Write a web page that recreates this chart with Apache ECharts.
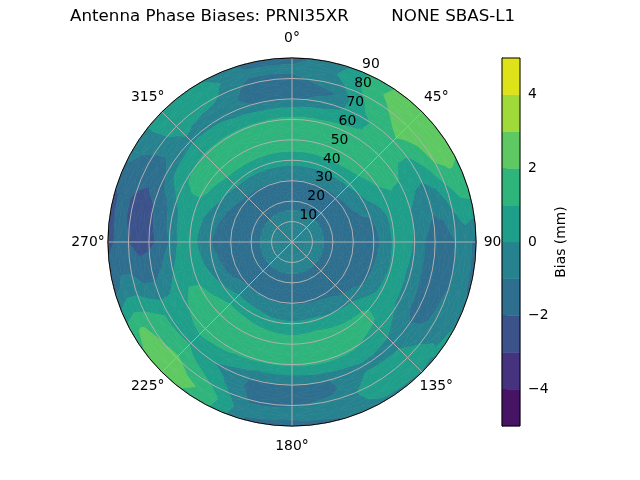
<!DOCTYPE html>
<html>
<head>
<meta charset="utf-8">
<script src="https://cdn.jsdelivr.net/npm/echarts@6.0.0/dist/echarts.min.js"></script>
<style>
html,body{margin:0;padding:0;background:#ffffff;}
#chart{width:640px;height:480px;}
</style>
</head>
<body>
<div id="chart"></div>
<script>
// ---- data ----
const titleText = 'Antenna Phase Biases: PRNI35XR        NONE SBAS-L1';
const azimuths = [0,15,30,45,60,75,90,105,120,135,150,165,180,195,210,225,240,255,270,285,300,315,330,345];
const zeniths  = [0,5,10,15,20,25,30,35,40,45,50,55,60,65,70,75,80,85,90];
// one zenith profile (0..90 step 5) per azimuth, bias in mm
const bias = [
  /*   0 */ [-0.5,-0.55,-0.7,-0.95,-1.4,-1.5,-1.1,-0.3, 0.3, 1.1, 1.6, 1.6, 1.2, 0.2,-1.2,-1.5,-1.2,-0.8,-1.4],
  /*  15 */ [-0.5,-0.55,-0.7,-0.95,-1.4,-1.5,-1.1,-0.3, 0.3, 1.1, 1.6, 1.6, 1.2, 0.4,-0.6,-1.1,-0.6, 0.0,-0.5],
  /*  30 */ [-0.5,-0.55,-0.7,-0.95,-1.4,-1.5,-1.1,-0.4, 0.3, 1.1, 1.6, 1.6, 1.3, 0.9, 0.8, 1.2, 1.6, 1.9, 1.8],
  /*  45 */ [-0.5,-0.55,-0.7,-0.95,-1.4,-1.5,-1.2,-0.5, 0.2, 0.9, 1.4, 1.6, 1.6, 1.6, 1.8, 2.3, 2.6, 2.7, 2.5],
  /*  60 */ [-0.5,-0.55,-0.7,-0.95,-1.4,-1.6,-1.3,-0.8,-0.2, 0.4, 0.9, 1.1, 1.0, 0.5, 0.4, 1.1, 2.1, 2.5, 2.2],
  /*  75 */ [-0.5,-0.55,-0.7,-0.95,-1.4,-1.6,-1.5,-1.3,-1.1,-0.6, 0.3, 0.5, 0.0,-0.5,-0.8,-0.6, 0.3, 1.0, 1.2],
  /*  90 */ [-0.5,-0.55,-0.7,-0.95,-1.4,-1.6,-1.6,-1.5,-1.3,-0.8, 0.2, 0.4,-0.1,-1.0,-1.5,-1.5,-1.0,-0.6,-1.3],
  /* 105 */ [-0.5,-0.55,-0.7,-0.95,-1.4,-1.6,-1.5,-1.4,-1.2,-0.6, 0.1, 0.3,-0.3,-1.0,-1.5,-1.4,-1.0,-0.6,-1.2],
  /* 120 */ [-0.5,-0.55,-0.7,-0.95,-1.4,-1.6,-1.4,-1.3,-1.1,-0.5, 0.3, 0.4,-0.2,-0.9,-1.3,-1.2,-0.7,-0.3, 0.1],
  /* 135 */ [-0.5,-0.55,-0.7,-0.95,-1.4,-1.6,-1.3,-1.1,-0.3, 0.6, 1.2, 1.1, 0.6, 0.1,-0.4, 0.1, 0.5, 0.5,-0.1],
  /* 150 */ [-0.5,-0.55,-0.7,-0.95,-1.4,-1.5,-1.2,-0.7, 0.0, 0.8, 1.3, 1.5, 1.1, 0.5,-0.3, 0.2, 0.6, 0.3,-0.2],
  /* 165 */ [-0.5,-0.55,-0.7,-0.95,-1.4,-1.5,-1.1,-0.5, 0.2, 1.0, 1.5, 1.6, 1.2, 0.2,-1.0,-1.2,-0.8,-0.7,-1.1],
  /* 180 */ [-0.5,-0.55,-0.7,-0.95,-1.4,-1.5,-1.1,-0.4, 0.1, 0.9, 1.5, 1.6, 1.1, 0.0,-1.0,-1.5,-1.05,-0.8,-1.3],
  /* 195 */ [-0.5,-0.55,-0.7,-0.95,-1.4,-1.5,-1.1,-0.4, 0.2, 1.0, 1.5, 1.6, 1.1, 0.0,-1.2,-1.4,-1.1,-0.8,-1.1],
  /* 210 */ [-0.5,-0.55,-0.7,-0.95,-1.4,-1.5,-1.0,-0.3, 0.5, 1.2, 1.6, 1.6, 1.2, 0.7,-0.2, 0.4, 1.0, 1.8, 1.6],
  /* 225 */ [-0.5,-0.55,-0.7,-0.95,-1.4,-1.5,-1.0,-0.3, 0.6, 1.3, 1.6, 1.6, 1.3, 0.9, 0.9, 1.4, 2.2, 2.6, 2.4],
  /* 240 */ [-0.5,-0.55,-0.7,-0.95,-1.4,-1.6,-1.3,-0.9,-0.1, 0.7, 1.2, 1.3, 0.9, 0.6, 0.8, 1.3, 1.8, 2.1, 1.7],
  /* 255 */ [-0.5,-0.55,-0.7,-0.95,-1.4,-1.6,-1.5,-1.2,-0.6, 0.1, 0.6, 0.6, 0.0,-0.7,-1.2,-1.1,-0.7,-0.7,-1.4],
  /* 270 */ [-0.5,-0.55,-0.7,-0.95,-1.4,-1.6,-1.6,-1.4,-0.95,-0.2, 0.4, 0.2,-1.0,-1.8,-2.3,-2.5,-2.0,-1.8,-2.3],
  /* 285 */ [-0.5,-0.55,-0.7,-0.95,-1.4,-1.6,-1.5,-1.2,-0.7, 0.0, 0.5, 0.4,-0.4,-1.5,-2.0,-2.4,-2.2,-1.7,-2.2],
  /* 300 */ [-0.5,-0.55,-0.7,-0.95,-1.4,-1.6,-1.3,-0.9,-0.1, 0.7, 1.2, 1.2, 0.9, 0.3,-0.9,-1.4,-1.3,-1.0,-0.6],
  /* 315 */ [-0.5,-0.55,-0.7,-0.95,-1.4,-1.5,-1.2,-0.6, 0.3, 1.0, 1.5, 1.5, 1.1, 0.5,-0.2, 0.1, 0.6, 0.7, 0.5],
  /* 330 */ [-0.5,-0.55,-0.7,-0.95,-1.4,-1.5,-1.1,-0.4, 0.3, 1.1, 1.6, 1.6, 1.1, 0.4,-0.3,-0.3, 0.3, 0.5, 0.0],
  /* 345 */ [-0.5,-0.55,-0.7,-0.95,-1.4,-1.5,-1.1,-0.3, 0.3, 1.1, 1.6, 1.6, 1.1, 0.2,-1.1,-1.5,-1.3,-0.8,-1.3]
];
const levels = [-5,-4,-3,-2,-1,0,1,2,3,4,5];
const bandColors = ['#471365','#46337f','#3b528b','#2e6e8e','#26828e','#1f9e89','#2fb47c','#5ec962','#9fda3a','#dde318'];
const angleTicks = [0,45,90,135,180,225,270,315];
const radialTicks = [10,20,30,40,50,60,70,80,90];
const colorbarTicks = [-4,-2,0,2,4];
const radialLabelAngle = 22.5;
const angleLabelRadius = 99.8;   // just outside the 90 deg rim

// ---- contour helpers ----
const nAz = azimuths.length;
const quads = [];
for (let i = 0; i < nAz; i++) {
  for (let j = 0; j < zeniths.length - 1; j++) {
    quads.push([zeniths[j], azimuths[i], i, j]);
  }
}
function clipPoly(poly, level, keepAbove) {
  const out = [];
  for (let k = 0; k < poly.length; k++) {
    const a = poly[k], b = poly[(k + 1) % poly.length];
    const ina = keepAbove ? a[2] >= level : a[2] <= level;
    const inb = keepAbove ? b[2] >= level : b[2] <= level;
    if (ina) out.push(a);
    if (ina !== inb) {
      const t = (level - a[2]) / (b[2] - a[2]);
      out.push([a[0] + t * (b[0] - a[0]), a[1] + t * (b[1] - a[1]), level]);
    }
  }
  return out;
}
function toPixels(poly, api) {
  const pts = [];
  for (let k = 0; k < poly.length; k++) {
    const a = poly[k], b = poly[(k + 1) % poly.length];
    const steps = Math.max(1, Math.ceil(Math.abs(b[1] - a[1]) / 1.5));
    for (let s = 0; s < steps; s++) {
      const t = s / steps;
      const c = api.coord([a[0] + t * (b[0] - a[0]), a[1] + t * (b[1] - a[1])]);
      pts.push([c[0], c[1]]);
    }
  }
  return pts;
}
function renderQuad(params, api) {
  const q = quads[params.dataIndex];
  const i = q[2], j = q[3];
  const i2 = (i + 1) % nAz;
  const a0 = azimuths[i], a1 = (i + 1 < nAz) ? azimuths[i + 1] : 360;
  const z0 = zeniths[j], z1 = zeniths[j + 1];
  const c00 = [z0, a0, bias[i][j]], c10 = [z0, a1, bias[i2][j]];
  const c11 = [z1, a1, bias[i2][j + 1]], c01 = [z1, a0, bias[i][j + 1]];
  const cen = [(z0 + z1) / 2, (a0 + a1) / 2, (c00[2] + c10[2] + c11[2] + c01[2]) / 4];
  const tris = [[c00, c10, cen], [c10, c11, cen], [c11, c01, cen], [c01, c00, cen]];
  const children = [];
  for (let k = 0; k < bandColors.length; k++) {
    for (const tri of tris) {
      const p = clipPoly(clipPoly(tri, levels[k], true), levels[k + 1], false);
      if (p.length >= 3) {
        children.push({
          type: 'polygon',
          shape: { points: toPixels(p, api) },
          style: { fill: bandColors[k], stroke: bandColors[k], lineWidth: 0.7 }
        });
      }
    }
  }
  return { type: 'group', children: children };
}

const font = 'DejaVu Sans';
const tickLabelStyle = {
  show: true, position: 'inside',
  fontFamily: font, fontSize: 13.9, color: '#000000', opacity: 1,
  textBorderWidth: 0, textBorderColor: 'transparent', textShadowBlur: 0
};
const chart = echarts.init(document.getElementById('chart'), null, { renderer: 'canvas' });
chart.setOption({
  animation: false,
  backgroundColor: '#ffffff',
  title: {
    text: titleText,
    left: 70,
    top: 8,
    padding: 0,
    textStyle: { fontFamily: font, fontSize: 16.7, fontWeight: 'normal', color: '#000' }
  },
  polar: [{ center: [292, 242], radius: 184 }],
  angleAxis: {
    type: 'value', min: 0, max: 360, interval: 45, startAngle: 90, clockwise: true,
    z: 11,
    axisLine: { show: true, lineStyle: { color: '#000', width: 1 } },
    axisTick: { show: false },
    splitLine: { show: true, lineStyle: { color: '#b0b0b0', width: 1 } },
    axisLabel: { show: false }
  },
  radiusAxis: {
    type: 'value', min: 0, max: 90, interval: 10,
    z: 10,
    axisLine: { show: false },
    axisTick: { show: false },
    axisLabel: { show: false },
    splitLine: { show: true, lineStyle: { color: '#b0b0b0', width: 1 } }
  },
  grid: [{ left: 502, top: 58, width: 18, height: 368 }],
  xAxis: [{ type: 'value', min: 0, max: 1, show: false, gridIndex: 0 }],
  yAxis: [{
    type: 'value', min: -5, max: 5, position: 'right', gridIndex: 0,
    axisLine: { show: true, lineStyle: { color: '#000', width: 1 } },
    axisTick: { show: true, length: 5, customValues: colorbarTicks, lineStyle: { color: '#000', width: 1 } },
    axisLabel: {
      customValues: colorbarTicks, margin: 8,
      fontFamily: font, fontSize: 13.9, color: '#000',
      formatter: function (v) { return String(v).replace('-', '\u2212'); }
    },
    splitLine: { show: false },
    name: 'Bias (mm)', nameLocation: 'middle', nameRotate: 90, nameGap: 34,
    nameTextStyle: { fontFamily: font, fontSize: 13.9, color: '#000' }
  }],
  series: [
    {
      type: 'custom', coordinateSystem: 'polar', polarIndex: 0,
      silent: true, z: 2,
      encode: { radius: 0, angle: 1 },
      data: quads,
      renderItem: renderQuad
    },
    {
      // radial tick labels along the 22.5 deg direction
      type: 'scatter', coordinateSystem: 'polar', polarIndex: 0,
      silent: true, z: 12, symbolSize: 1, clip: false,
      itemStyle: { color: 'rgba(255,255,255,0)' },
      data: radialTicks.map(function (r) { return [r, radialLabelAngle]; }),
      label: Object.assign({}, tickLabelStyle, {
        offset: [8.5, -7.5],
        formatter: function (p) { return String(p.value[0]); }
      })
    },
    {
      // angular tick labels, centred just outside the rim
      type: 'scatter', coordinateSystem: 'polar', polarIndex: 0,
      silent: true, z: 12, symbolSize: 1, clip: false,
      itemStyle: { color: 'rgba(255,255,255,0)' },
      data: angleTicks.map(function (a) { return [angleLabelRadius, a]; }),
      label: Object.assign({}, tickLabelStyle, {
        formatter: function (p) { return p.value[1] + '\u00b0'; }
      })
    },
    {
      type: 'custom', coordinateSystem: 'cartesian2d', xAxisIndex: 0, yAxisIndex: 0,
      silent: true, z: 20,
      data: bandColors.map(function (c, k) { return [levels[k], levels[k + 1]]; }),
      encode: { y: [0, 1] },
      renderItem: function (params, api) {
        const p0 = api.coord([0, api.value(0)]);
        const p1 = api.coord([1, api.value(1)]);
        return {
          type: 'rect',
          shape: { x: p0[0], y: p1[1], width: p1[0] - p0[0], height: p0[1] - p1[1] },
          style: { fill: bandColors[params.dataIndex], stroke: bandColors[params.dataIndex], lineWidth: 0.5 }
        };
      }
    },
    {
      type: 'custom', coordinateSystem: 'cartesian2d', xAxisIndex: 0, yAxisIndex: 0,
      silent: true, z: 21,
      data: [[levels[0], levels[levels.length - 1]]],
      encode: { y: [0, 1] },
      renderItem: function (params, api) {
        const p0 = api.coord([0, api.value(0)]);
        const p1 = api.coord([1, api.value(1)]);
        return {
          type: 'rect',
          shape: { x: p0[0], y: p1[1], width: p1[0] - p0[0], height: p0[1] - p1[1] },
          style: { fill: 'none', stroke: '#000', lineWidth: 1 }
        };
      }
    }
  ]
});
</script>
</body>
</html>
